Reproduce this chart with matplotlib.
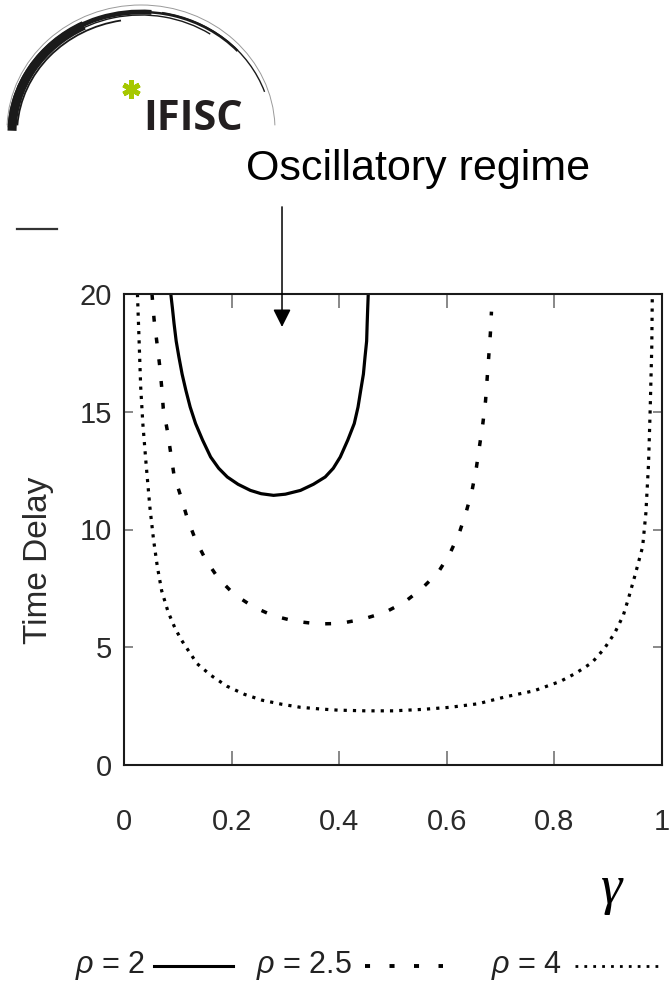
import matplotlib
matplotlib.use("Agg")
import matplotlib.pyplot as plt
from matplotlib.patches import Arc
from matplotlib.lines import Line2D

W, H = 670, 986

# curves: gamma vs time delay
gamma_rho2 = [0.087, 0.090, 0.093, 0.097, 0.102, 0.108, 0.115, 0.123, 0.133,
              0.146, 0.161, 0.176, 0.192, 0.212, 0.235, 0.255, 0.278, 0.300,
              0.328, 0.352, 0.374, 0.389, 0.402, 0.416, 0.428, 0.435, 0.440,
              0.445, 0.448, 0.451, 0.452, 0.453, 0.454]
delay_rho2 = [20.0, 19.4, 18.75, 18.0, 17.33, 16.6, 15.91, 15.2, 14.5,
              13.8, 13.08, 12.6, 12.23, 11.92, 11.66, 11.52, 11.45, 11.5,
              11.66, 11.92, 12.23, 12.6, 13.08, 13.8, 14.5, 15.2, 15.91,
              16.6, 17.33, 18.0, 18.75, 19.4, 20.0]

gamma_rho25 = [0.052, 0.056, 0.061, 0.066, 0.070, 0.073, 0.081, 0.087, 0.093,
               0.106, 0.118, 0.133, 0.152, 0.175, 0.204, 0.240, 0.277, 0.319,
               0.361, 0.402, 0.445, 0.485, 0.521, 0.553, 0.584, 0.606, 0.623,
               0.636, 0.647, 0.655, 0.661, 0.667, 0.672, 0.675, 0.678, 0.681, 0.683]
delay_rho25 = [20.0, 18.9, 17.97, 17.02, 16.06, 15.14, 14.14, 13.22, 12.30,
               11.38, 10.45, 9.56, 8.71, 7.94, 7.26, 6.72, 6.34, 6.10,
               5.99, 6.01, 6.20, 6.48, 6.91, 7.48, 8.18, 8.99, 9.84,
               10.74, 11.66, 12.63, 13.57, 14.50, 15.46, 16.41, 17.36, 18.33, 19.25]

gamma_rho4 = [0.025, 0.028, 0.031, 0.035, 0.041, 0.048, 0.055, 0.062, 0.070,
              0.082, 0.095, 0.107, 0.117, 0.136, 0.162, 0.191, 0.224, 0.257,
              0.293, 0.328, 0.364, 0.397, 0.449, 0.501, 0.554, 0.606, 0.658,
              0.710, 0.762, 0.811, 0.840, 0.870, 0.893, 0.912, 0.928, 0.938,
              0.950, 0.964, 0.970, 0.975, 0.978, 0.981, 0.982]
delay_rho4 = [20.0, 18.05, 16.06, 14.5, 12.8, 10.97, 9.55, 8.42, 7.4,
              6.5, 5.8, 5.3, 4.95, 4.3, 3.8, 3.35, 3.0, 2.75,
              2.58, 2.45, 2.38, 2.33, 2.3, 2.3, 2.36, 2.45, 2.6,
              2.9, 3.15, 3.55, 3.9, 4.35, 4.95, 5.6, 6.35, 7.1,
              8.07, 9.27, 10.69, 12.81, 15.07, 17.76, 20.0]

xticks = [0, 0.2, 0.4, 0.6, 0.8, 1]
xtick_labels = ["0", "0.2", "0.4", "0.6", "0.8", "1"]
yticks = [0, 5, 10, 15, 20]
ytick_labels = ["0", "5", "10", "15", "20"]
legend_labels = [r"$\rho$ = 2", r"$\rho$ = 2.5", r"$\rho$ = 4"]

plt.rcParams["font.family"] = ["Liberation Sans", "DejaVu Sans"]
plt.rcParams["mathtext.fontset"] = "custom"
plt.rcParams["mathtext.it"] = "Liberation Sans:italic"
plt.rcParams["mathtext.rm"] = "Liberation Sans"

fig = plt.figure(figsize=(W / 100, H / 100), dpi=100)

# overlay in pixel coords (y down) for logo, title, legend
ov = fig.add_axes([0, 0, 1, 1])
ov.set_xlim(0, W)
ov.set_ylim(H, 0)
ov.axis("off")


# screen angle phi -> data theta = 360 - phi because y is inverted
def arc(cx, cy, w, h, phi1, phi2, lw, color="#1a1a1a"):
    ov.add_patch(Arc((cx, cy), w, h, theta1=360 - phi2, theta2=360 - phi1,
                     lw=lw, color=color, capstyle="butt"))


# logo swoosh
arc(141, 130, 268, 250, 2, 178, 0.7, "#9a9a9a")
arc(141, 133, 258, 240, 118, 179, 6.5)
arc(141, 132, 262, 240, 85, 178, 3.5)
arc(141, 132, 262, 240, 40, 175, 1.8)
arc(141, 132, 262, 242, 18, 80, 1.0)
arc(141, 134, 248, 230, 100, 176, 1.3)
arc(141, 133, 254, 236, 55, 150, 1.0)

ov.text(143, 130, "IFISC", fontsize=30, fontweight="bold", color="#231f20",
        family=["Open Sans", "Liberation Sans"], ha="left", va="baseline")
ov.plot([131], [89], marker=(6, 2, 0), ms=13, mew=3.5, color="#a6c800")

ov.text(418, 180, "Oscillatory regime", fontsize=31, color="black",
        ha="center", va="baseline")

ov.add_line(Line2D([17, 57], [229, 229], lw=1.6, color="#333333"))

ov.text(611, 903, "γ", fontsize=39, family=["Liberation Serif", "DejaVu Serif"],
        style="italic", ha="center", va="baseline")

# legend row
leg_y = 966
leg_fs = 22
ov.text(75, leg_y, legend_labels[0], fontsize=leg_fs, color="#222222", va="center", ha="left")
ov.add_line(Line2D([154, 233], [leg_y, leg_y], lw=2.2, color="black"))
ov.text(256, leg_y, legend_labels[1], fontsize=leg_fs, color="#222222", va="center", ha="left")
ov.add_line(Line2D([365, 443], [leg_y, leg_y], lw=2.8, color="black",
                   dashes=(1.3, 5.0), dash_capstyle="butt"))
ov.text(491, leg_y, legend_labels[2], fontsize=leg_fs, color="#222222", va="center", ha="left")
ov.add_line(Line2D([575, 658], [leg_y, leg_y], lw=2.0, color="black",
                   dashes=(1.0, 2.2), dash_capstyle="butt"))

# main axes
ax = fig.add_axes([124 / W, 1 - 765 / H, 538 / W, 471 / H])
ax.plot(gamma_rho2, delay_rho2, color="black", lw=2.3, solid_joinstyle="round")
ax.plot(gamma_rho25, delay_rho25, color="black", lw=2.5, dashes=(1.7, 4.6),
        dash_capstyle="butt")
ax.plot(gamma_rho4, delay_rho4, color="black", lw=2.3, dashes=(1.0, 1.9),
        dash_capstyle="butt")

ax.set_xlim(0, 1)
ax.set_ylim(0, 20)
ax.set_xticks(xticks)
ax.set_xticklabels(xtick_labels)
ax.set_yticks(yticks)
ax.set_yticklabels(ytick_labels)
for s in ax.spines.values():
    s.set_linewidth(1.5)
    s.set_color("#1a1a1a")
ax.tick_params(axis="x", direction="in", length=10, width=1.4, color="#888888",
               top=True, labelsize=21, labelcolor="#2a2a2a", pad=31)
ax.tick_params(axis="y", direction="in", length=6.5, width=1.4, color="#888888",
               right=True, labelsize=21, labelcolor="#2a2a2a", pad=8.5)

ax.set_ylabel("Time Delay", fontsize=24, color="#2a2a2a", va="center")
ax.yaxis.set_label_coords((39 - 124) / 538, (765 - 560) / 471)

# arrow pointing into the oscillatory region
ax.annotate("", xy=(0.2937, 18.6), xytext=(0.2937, 23.7), annotation_clip=False,
            arrowprops=dict(arrowstyle="-|>,head_length=1.08,head_width=0.54",
                            mutation_scale=10, lw=1.1, color="black",
                            shrinkA=0, shrinkB=0))

fig.savefig("out.png", dpi=100)
